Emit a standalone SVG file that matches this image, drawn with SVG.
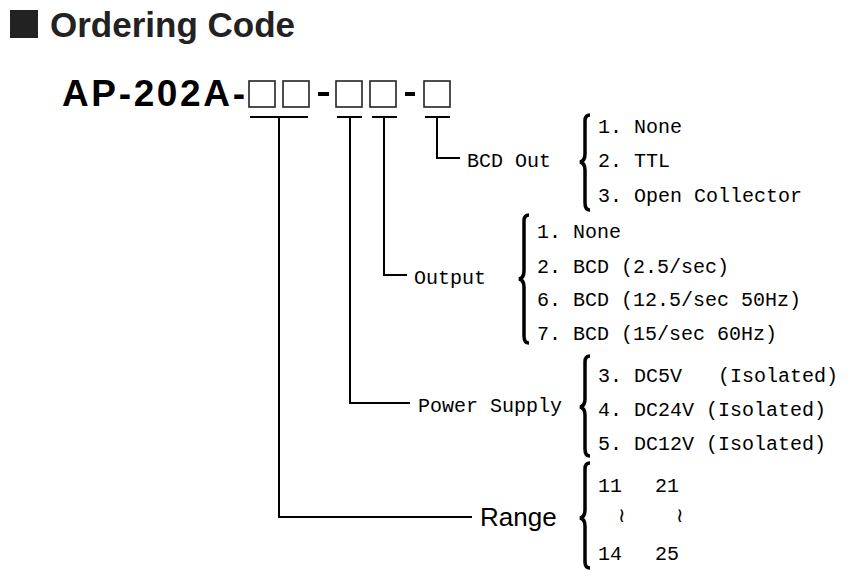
<svg xmlns="http://www.w3.org/2000/svg" width="858" height="581" viewBox="0 0 858 581">
<style>
.t{font-family:"Liberation Mono","Noto Sans CJK JP",monospace;font-size:20px;fill:#000}
.b{fill:none;stroke:#000;stroke-width:2}
.br{fill:none;stroke:#000;stroke-width:3.5}
.bx{fill:none;stroke:#222;stroke-width:1.6}
</style>
<rect width="858" height="581" fill="#fff"/>
<g id="title">
<rect x="10" y="10" width="28" height="28" fill="#222"/>
<text x="50" y="37" font-family="Liberation Sans,Arial,sans-serif" font-weight="bold" font-size="35" fill="#222">Ordering Code</text>
</g>
<g id="code">
<text x="62" y="106" font-family="Liberation Sans,Arial,sans-serif" font-weight="bold" font-size="37" fill="#000" textLength="183">AP-202A-</text>
<rect class="bx" x="249" y="81" width="26" height="26"/>
<rect class="bx" x="283" y="81" width="26" height="26"/>
<rect x="318" y="92" width="11" height="4" fill="#000"/>
<rect class="bx" x="336" y="81" width="26" height="26"/>
<rect class="bx" x="370" y="81" width="26" height="26"/>
<rect x="405" y="92" width="10" height="4" fill="#000"/>
<rect class="bx" x="424" y="81" width="26" height="26"/>
</g>
<g id="connectors">
<path class="b" d="M250 117H308M279 117V517H472"/>
<path class="b" d="M337 117H362M350 117V403H410"/>
<path class="b" d="M372 117H397M384 117V275H407"/>
<path class="b" d="M425 117H450M437 117V158H460"/>
</g>
<g id="bcd">
<text class="t" x="467" y="167">BCD Out</text>
<path class="br" d="M590 115Q585 115 585 121V154Q585 161 580 162Q585 163 585 170V203Q585 210 590 210"/>
<text class="t" x="598" y="133">1. None</text>
<text class="t" x="598" y="167">2. TTL</text>
<text class="t" x="598" y="202">3. Open Collector</text>
</g>
<g id="output">
<text class="t" x="414" y="284">Output</text>
<path class="br" d="M529 215Q524 215 524 221V271Q524 278 519 279Q524 280 524 287V336Q524 343 529 343"/>
<text class="t" x="537" y="238">1. None</text>
<text class="t" x="537" y="273">2. BCD (2.5/sec)</text>
<text class="t" x="537" y="306">6. BCD (12.5/sec 50Hz)</text>
<text class="t" x="537" y="340">7. BCD (15/sec 60Hz)</text>
</g>
<g id="power">
<text class="t" x="418" y="412">Power Supply</text>
<path class="br" d="M590 356Q585 356 585 362V399Q585 406 580 407Q585 408 585 415V449Q585 456 590 456"/>
<text class="t" x="598" y="382" xml:space="preserve">3. DC5V   (Isolated)</text>
<text class="t" x="598" y="416">4. DC24V (Isolated)</text>
<text class="t" x="598" y="450">5. DC12V (Isolated)</text>
</g>
<g id="range">
<text x="480" y="526" font-family="Liberation Sans Narrow,Liberation Sans,sans-serif" font-size="26" fill="#000">Range</text>
<path class="br" d="M590 463Q585 463 585 469V510Q585 517 580 518Q585 519 585 526V562Q585 568 590 568"/>
<text class="t" x="598" y="492">11</text>
<text class="t" x="655" y="492">21</text>
<text class="t" x="618" y="522" font-size="14">≀</text>
<text class="t" x="676" y="522" font-size="14">≀</text>
<text class="t" x="598" y="560">14</text>
<text class="t" x="655" y="560">25</text>
</g>
</svg>
